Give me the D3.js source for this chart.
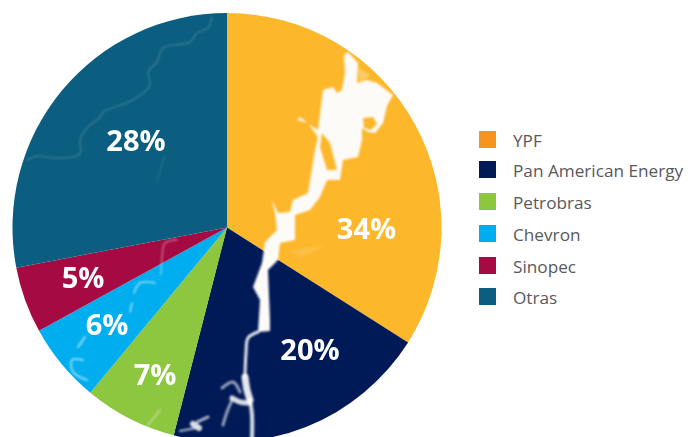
<!DOCTYPE html>
<html>
<head>
<meta charset="utf-8">
<title>Participacion por operador</title>
<script src="https://d3js.org/d3.v7.min.js"></script>
<style>
html, body { margin: 0; padding: 0; background: #fff; overflow: hidden; }
svg { display: block; }
text { font-family: "Open Sans", sans-serif; }
</style>
</head>
<body>
<script>
// datos
var categories = ["YPF", "Pan American Energy", "Petrobras", "Chevron", "Sinopec", "Otras"];
var values = [34, 20, 7, 6, 5, 28];
var sliceColors = ["#fdb72b", "#001a57", "#8dc63f", "#00aeef", "#a50a42", "#0b5e7f"];
var legendColors = ["#f7941e", "#001a57", "#8dc63f", "#00aeef", "#a50a42", "#0b5e7f"];

// dimensiones
var width = 698, height = 437;
var cx = 227, cy = 227.5, radius = 214.5;

// posicion de las etiquetas (no estan en el centroide de cada porcion)
var labelX = [366.5, 310, 155, 107, 83, 136];
var labelY = [228.5, 350, 375, 325, 278, 141];
var legendY = [139.5, 169.5, 201.5, 233.5, 265.5, 296.5];

// el rio de fondo, en pixeles de la imagen
var riverMain = [[344,55],[348,52],[358,63],[357,83],[367,80],[377,83],[393,95],[387,106],[383,123],[375,133],[368,132],[362,128],[362,140],[358,157],[343,160],[340,180],[327,180],[320,197],[310,210],[295,215],[295,240],[280,243],[278,260],[268,270],[270,320],[270,331],[258,332],[260,300],[253,287],[262,263],[265,242],[277,230],[275,213],[272,200],[278,213],[290,212],[293,200],[308,193],[315,150],[318,137],[308,123],[297,120],[300,117],[310,125],[318,130],[323,90],[333,87],[337,93],[342,90],[345,73]];
var riverIslands = [
  [[322,133],[330,143],[337,170],[327,170],[320,147]],
  [[363,118],[373,117],[377,124],[371,130],[364,128]]
];
var paleSpots = [[[358,68],[370,75],[360,82]], [[290,250],[326,245],[300,258]]];
var riverLower = [
  {w: 3, o: .9, p: [[258,332],[248,338],[246,353],[245,377]]},
  {w: 7, o: .9, p: [[245,377],[247,390],[250,400]]},
  {w: 4, o: .85, p: [[250,400],[252,415],[252,438]]},
  {w: 3, o: .6, p: [[222,388],[233,382],[240,392]]},
  {w: 5, o: .85, p: [[232,398],[240,402],[250,403]]},
  {w: 3, o: .6, p: [[232,400],[227,412],[223,425]]},
  {w: 3, o: .7, p: [[208,417],[197,422]]},
  {w: 6, o: .85, p: [[193,424],[199,428]]},
  {w: 2, o: .7, p: [[196,428],[180,431]]}
];
var riverThin = [
  {o: .18, w: 1.5, p: [[212,17],[208,28],[197,33],[190,42],[163,48],[157,62],[148,72],[150,85],[133,100],[103,112],[100,117],[87,128],[80,140],[80,154],[53,158],[38,156],[27,160]]},
  {o: .1, w: 1.5, p: [[165,155],[160,170],[157,182]]},
  {o: .4, w: 1.5, p: [[177,240],[165,243],[162,258],[161,275]]},
  {o: .6, w: 1.5, p: [[155,283],[140,283],[134,293]]},
  {o: .6, w: 1.5, p: [[132,303],[130,312]]},
  {o: .6, w: 2, p: [[85,337],[78,347]]},
  {o: .7, w: 1.5, p: [[83,360],[72,360],[73,372],[87,380]]},
  {o: .4, w: 2, p: [[160,410],[148,425]]}
];

var svg = d3.select("body").append("svg")
  .attr("width", width)
  .attr("height", height);

var defs = svg.append("defs");
defs.append("clipPath").attr("id", "pieClip")
  .append("circle")
  .attr("cx", cx).attr("cy", cy).attr("r", radius);
defs.append("filter").attr("id", "soft")
  .append("feGaussianBlur").attr("stdDeviation", 0.8);

// torta
var pie = d3.pie().sort(null).value(function(d) { return d; });
var arc = d3.arc().innerRadius(0).outerRadius(radius);

var chart = svg.append("g").attr("transform", "translate(" + cx + "," + cy + ")");
chart.selectAll("path")
  .data(pie(values))
  .enter().append("path")
  .attr("d", arc)
  .attr("fill", function(d, i) { return sliceColors[i]; });

// rio encima de las porciones
var river = svg.append("g").attr("clip-path", "url(#pieClip)")
  .append("g").attr("filter", "url(#soft)");
var shapeLine = d3.line().curve(d3.curveLinearClosed);
var riverLine = d3.line().curve(d3.curveCatmullRom);

river.append("path")
  .attr("fill-rule", "evenodd")
  .attr("fill", "#fdfbf8")
  .attr("d", [riverMain].concat(riverIslands).map(function(p) { return shapeLine(p); }).join(""));

river.selectAll(".pale").data(paleSpots).enter().append("path")
  .attr("class", "pale")
  .attr("fill", "#fff")
  .attr("opacity", function(d, i) { return i ? .12 : .3; })
  .attr("d", function(d) { return shapeLine(d); });

river.selectAll(".line").data(riverLower.concat(riverThin)).enter().append("path")
  .attr("class", "line")
  .attr("fill", "none")
  .attr("stroke", "#fff")
  .attr("stroke-linecap", "round")
  .attr("stroke-width", function(d) { return d.w; })
  .attr("stroke-opacity", function(d) { return d.o; })
  .attr("d", function(d) { return riverLine(d.p); });

// porcentajes
svg.selectAll(".pct").data(values).enter().append("text")
  .attr("class", "pct")
  .attr("x", function(d, i) { return labelX[i]; })
  .attr("y", function(d, i) { return labelY[i]; })
  .attr("dy", "0.36em")
  .attr("text-anchor", "middle")
  .attr("fill", "#fff")
  .attr("font-size", 29)
  .attr("font-weight", 700)
  .text(function(d) { return d + "%"; });

// leyenda
var legend = svg.selectAll(".legend").data(categories).enter().append("g")
  .attr("class", "legend")
  .attr("transform", function(d, i) { return "translate(479," + legendY[i] + ")"; });

legend.append("rect")
  .attr("y", -8.5)
  .attr("width", 17)
  .attr("height", 17)
  .attr("fill", function(d, i) { return legendColors[i]; });

legend.append("text")
  .attr("x", 34)
  .attr("y", 1)
  .attr("dy", "0.36em")
  .attr("fill", "#58595b")
  .attr("font-size", 17.2)
  .text(function(d) { return d; });
</script>
</body>
</html>
